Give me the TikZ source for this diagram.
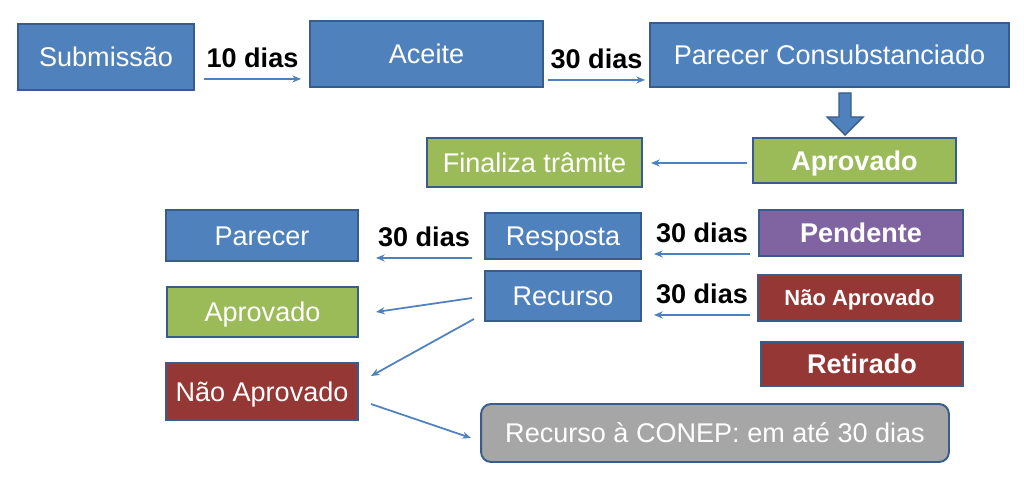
\documentclass[tikz,border=0pt]{standalone}
\usepackage{fontspec}
\setmainfont{Liberation Sans}
\usetikzlibrary{calc,arrows.meta}
\definecolor{caixaazul}{HTML}{4F81BD}
\definecolor{bordaazul}{HTML}{385D8A}
\definecolor{caixaverde}{HTML}{9BBB59}
\definecolor{caixavermelha}{HTML}{953735}
\definecolor{caixaroxa}{HTML}{8064A2}
\definecolor{caixacinza}{HTML}{A6A6A6}
\tikzset{
  caixa/.style={draw=bordaazul,line width=1.1pt,text=white,inner sep=0pt,
    text height=11pt,text depth=0pt,font=\fontsize{15.4}{18}\selectfont},
  azul/.style={caixa,fill=caixaazul},
  verde/.style={caixa,fill=caixaverde},
  vermelha/.style={caixa,fill=caixavermelha},
  roxa/.style={caixa,fill=caixaroxa},
  cinza/.style={caixa,fill=caixacinza,rounded corners=0.2cm},
  negrito/.style={font=\fontsize{15.4}{18}\bfseries\selectfont},
  prazo/.style={negrito,text=black,inner sep=0pt,above=0.2cm},
  seta/.style={draw=caixaazul,line width=1pt,-{Stealth[length=5pt,width=4pt]}},
  setagrande/.style={draw=bordaazul,fill=caixaazul,line width=0.8pt}
}
\begin{document}
\begin{tikzpicture}[x=0.02cm,y=-0.02cm]
\useasboundingbox (0,0) rectangle (1024,486);
\node[azul,minimum width=3.52cm,minimum height=1.32cm] (sub) at (106,57) {Submissão};
\node[azul,minimum width=4.66cm,minimum height=1.32cm] (aceite) at (426.5,54) {Aceite};
\node[azul,minimum width=7.18cm,minimum height=1.28cm] (parcons) at (829.5,55) {Parecer Consubstanciado};
\node[verde,negrito,minimum width=4.06cm,minimum height=0.90cm] (aprov1) at (854.5,160.5) {Aprovado};
\node[verde,minimum width=4.30cm,minimum height=0.98cm] (final) at (534.5,162.5) {Finaliza trâmite};
\node[azul,minimum width=3.84cm,minimum height=1.02cm] (parecer) at (262,235.5) {Parecer};
\node[azul,minimum width=3.12cm,minimum height=0.92cm] (resposta) at (563,236) {Resposta};
\node[azul,minimum width=3.12cm,minimum height=1.00cm] (recurso) at (563,296) {Recurso};
\node[verde,minimum width=3.82cm,minimum height=1.00cm] (aprov2) at (262.5,312) {Aprovado};
\node[roxa,negrito,minimum width=4.08cm,minimum height=0.92cm] (pend) at (861,233) {Pendente};
\node[vermelha,font=\fontsize{12.5}{15}\bfseries\selectfont,text height=9pt,minimum width=4.06cm,minimum height=0.92cm] (naoapr1) at (859.5,298) {Não Aprovado};
\node[vermelha,negrito,minimum width=4.04cm,minimum height=0.88cm] (retir) at (862,364) {Retirado};
\node[vermelha,minimum width=3.84cm,minimum height=1.14cm] (naoapr2) at (262,391.5) {Não Aprovado};
\node[cinza,minimum width=9.36cm,minimum height=1.16cm] (conep) at (715,433) {Recurso à CONEP: em até 30 dias};

\draw[seta] ($(sub.south east)+(9,-12)$) -- node[prazo] (p1) {10 dias} ($(aceite.south west)+(-8,-9)$);
\draw[seta] ($(aceite.south east)+(4,-8)$) -- node[prazo] (p2) {30 dias} ($(parcons.south west)+(-4,-8)$);
\draw[seta] ($(aprov1.west)+(-5,2.5)$) -- ($(final.east)+(8,0.5)$);
\draw[seta] ($(resposta.south west)+(-12,-2)$) -- node[prazo] (p3) {30 dias} ($(parecer.south east)+(17,-4)$);
\draw[seta] ($(pend.south west)+(-8,-3)$) -- node[prazo] (p4) {30 dias} ($(resposta.south east)+(12,-6)$);
\draw[seta] ($(naoapr1.south west)+(-7,-7)$) -- node[prazo] (p5) {30 dias} ($(recurso.south east)+(12,-7)$);
\draw[seta] ($(recurso.west)+(-12,2)$) -- ($(aprov2.east)+(17,0)$);
\draw[seta] ($(recurso.south west)+(-10,-3)$) -- ($(naoapr2.north east)+(12,14)$);
\draw[seta] ($(naoapr2.east)+(12,12.5)$) -- ($(conep.west)+(-9,5)$);

\draw[setagrande] (839,93) -- (851,93) -- (851,117) -- (863,117) -- (845,135) -- (827,117) -- (839,117) -- cycle;
\end{tikzpicture}
\end{document}
